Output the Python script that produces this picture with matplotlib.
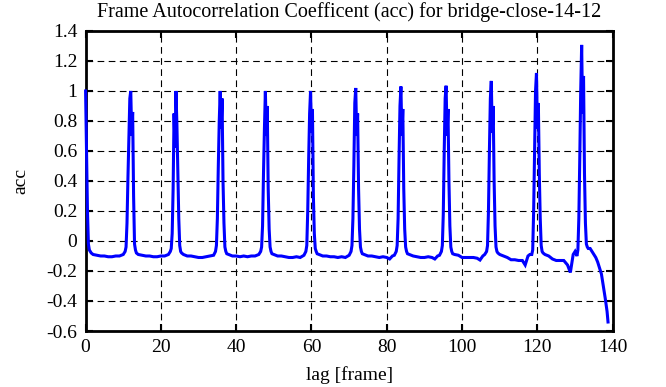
import matplotlib
matplotlib.use("Agg")
import matplotlib.pyplot as plt

lag = [
    0, 0.25, 0.5, 0.75, 1, 1.5, 2, 3, 4, 5, 6, 7, 8, 9, 10, 10.5,
    10.75, 11, 11.25, 11.5, 11.75, 12, 12.25, 12.5, 12.75, 13, 13.25,
    13.5, 14, 15, 16, 17, 18, 19, 20, 21, 22, 22.5,
    22.75, 23, 23.25, 23.5, 23.75, 24, 24.25, 24.5, 24.75, 25, 25.25,
    25.5, 26, 27, 28, 29, 30, 31, 32, 33, 34, 34.5,
    34.75, 35, 35.25, 35.5, 35.75, 36, 36.25, 36.5, 36.75, 37, 37.25,
    37.5, 38, 39, 40, 41, 42, 43, 44, 45, 46, 46.5,
    46.75, 47, 47.25, 47.5, 47.75, 48, 48.25, 48.5, 48.75, 49, 49.25,
    49.5, 50, 51, 52, 53, 54, 55, 56, 57, 58, 58.5,
    58.75, 59, 59.25, 59.5, 59.75, 60, 60.25, 60.5, 60.75, 61, 61.25,
    61.5, 62, 63, 64, 65, 66, 67, 68, 69, 70, 70.5,
    70.75, 71, 71.25, 71.5, 71.75, 72, 72.25, 72.5, 72.75, 73, 73.25,
    73.5, 74, 75, 76, 77, 78, 79, 80, 80.75, 81.5, 82, 82.5,
    82.75, 83, 83.25, 83.5, 83.75, 84, 84.25, 84.5, 84.75, 85, 85.25,
    85.5, 86, 87, 88, 89, 90, 91, 92, 92.75, 93.5, 94, 94.5,
    94.75, 95, 95.25, 95.5, 95.75, 96, 96.25, 96.5, 96.75, 97, 97.25,
    97.5, 98, 99, 100, 101, 102, 103, 104, 104.75, 105.5, 106, 106.5,
    106.75, 107, 107.25, 107.5, 107.75, 108, 108.25, 108.5, 108.75, 109, 109.25,
    109.5, 110, 111, 112, 113, 114, 115, 116, 116.75, 117.5, 118, 118.5,
    118.75, 119, 119.25, 119.5, 119.75, 120, 120.25, 120.5, 120.75, 121, 121.25,
    121.5, 122, 123, 124, 124.5, 125, 126, 127, 128, 128.75, 129.5, 130, 130.5,
    130.75, 131, 131.25, 131.5, 131.75, 132, 132.25, 132.5, 132.75, 133, 133.25,
    133.5, 134, 134.5, 135, 135.5, 136, 136.5, 137, 137.5, 138, 138.5, 138.75,
]

acc = [
    1.0, 0.6, 0.2, -0.02, -0.06, -0.08, -0.09, -0.095, -0.1, -0.1, -0.105, -0.105, -0.1, -0.1, -0.09, -0.07,
    -0.04, 0.12, 0.42, 0.68, 0.95, 1.0, 0.7, 0.86, 0.3, -0.02, -0.06,
    -0.08, -0.09, -0.095, -0.1, -0.1, -0.105, -0.105, -0.1, -0.1, -0.09, -0.07,
    -0.05, 0.05, 0.35, 0.85, 0.62, 1.0, 0.78, 0.45, 0.15, -0.03, -0.07,
    -0.08, -0.09, -0.1, -0.1, -0.105, -0.11, -0.11, -0.105, -0.1, -0.095, -0.07,
    -0.03, 0.15, 0.5, 0.8, 1.0, 0.75, 0.95, 0.4, 0.12, -0.04, -0.07,
    -0.085, -0.09, -0.1, -0.1, -0.105, -0.1, -0.105, -0.1, -0.1, -0.09, -0.07,
    -0.04, 0.1, 0.45, 0.75, 1.0, 0.7, 0.9, 0.35, 0.08, -0.04, -0.07,
    -0.085, -0.09, -0.1, -0.1, -0.105, -0.11, -0.11, -0.105, -0.11, -0.095, -0.07,
    -0.03, 0.2, 0.55, 0.85, 1.0, 0.72, 0.88, 0.3, 0.05, -0.05, -0.07,
    -0.085, -0.09, -0.1, -0.1, -0.105, -0.105, -0.11, -0.105, -0.11, -0.095, -0.07,
    -0.03, 0.15, 0.5, 0.92, 1.02, 0.7, 0.85, 0.35, 0.08, -0.04, -0.07,
    -0.085, -0.09, -0.1, -0.1, -0.105, -0.11, -0.105, -0.11, -0.12, -0.1, -0.095, -0.07,
    -0.03, 0.15, 0.55, 0.9, 1.03, 0.7, 0.88, 0.35, 0.08, -0.04, -0.07,
    -0.085, -0.09, -0.1, -0.105, -0.11, -0.11, -0.105, -0.11, -0.12, -0.1, -0.095, -0.07,
    -0.03, 0.18, 0.6, 0.95, 1.035, 0.7, 0.88, 0.4, 0.1, -0.04, -0.07,
    -0.085, -0.09, -0.095, -0.11, -0.11, -0.11, -0.11, -0.115, -0.127, -0.1, -0.09, -0.07,
    -0.03, 0.2, 0.6, 0.95, 1.067, 0.72, 0.9, 0.4, 0.1, -0.04, -0.07,
    -0.08, -0.09, -0.1, -0.11, -0.125, -0.125, -0.13, -0.13, -0.16, -0.1, -0.09, -0.09,
    -0.06, 0.2, 0.6, 1.0, 1.12, 0.75, 0.92, 0.45, 0.15, -0.03, -0.07,
    -0.08, -0.09, -0.1, -0.12, -0.125, -0.13, -0.13, -0.13, -0.16, -0.21, -0.09, -0.07, -0.1,
    -0.06, 0.15, 0.55, 1.0, 1.307, 0.85, 1.1, 0.45, 0.12, -0.02, -0.04,
    -0.05, -0.05, -0.07, -0.09, -0.11, -0.14, -0.18, -0.22, -0.3, -0.38, -0.47, -0.54,
]

x_ticks = [0, 20, 40, 60, 80, 100, 120, 140]
y_ticks = [-0.6, -0.4, -0.2, 0, 0.2, 0.4, 0.6, 0.8, 1, 1.2, 1.4]
y_tick_labels = ["-0.6", "-0.4", "-0.2", "0", "0.2", "0.4", "0.6", "0.8", "1", "1.2", "1.4"]

plt.rcParams['font.family'] = ['Liberation Serif', 'DejaVu Serif']
plt.rcParams['font.size'] = 14

fig = plt.figure(figsize=(6.66, 3.87), dpi=100)
ax = fig.add_axes([0.1285, 0.1447, 0.7915, 0.7753])

ax.plot(lag, acc, color='#0000ff', linewidth=2.2, solid_joinstyle='miter',
        zorder=5, clip_on=False)

ax.set_xlim(0, 140)
ax.set_ylim(-0.6, 1.4)
ax.set_xticks(x_ticks)
ax.set_yticks(y_ticks)
ax.set_yticklabels(y_tick_labels)

ax.grid(True, color='black', linestyle=(0, (6, 4)), linewidth=0.8)
ax.tick_params(direction='in', length=5, width=1.5, top=True, right=True,
               labelsize=14, pad=6)
for s in ax.spines.values():
    s.set_linewidth(2)
    s.set_zorder(4)

ax.set_title('Frame Autocorrelation Coefficent (acc) for bridge-close-14-12', fontsize=14.5, pad=10)
ax.set_xlabel('lag [frame]', fontsize=14, labelpad=7)
ax.set_ylabel('acc', fontsize=14, labelpad=12)

fig.savefig('out.png', dpi=100)
